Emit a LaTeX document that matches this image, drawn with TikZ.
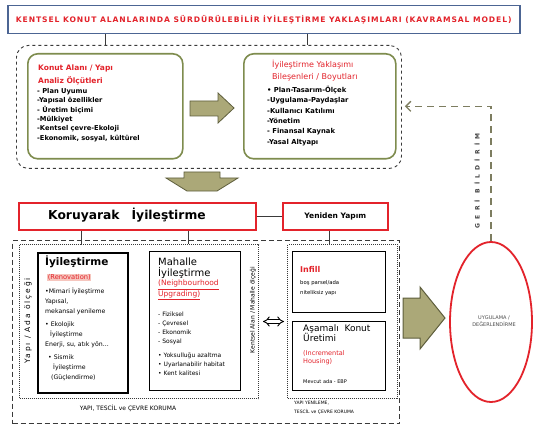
\documentclass[tikz,border=0pt]{standalone}
\usepackage{fontspec}
\setmainfont{DejaVu Sans}
\newfontfamily\titlefont[LetterSpace=12]{DejaVu Sans}
\newfontfamily\geriFont[LetterSpace=70]{DejaVu Sans}
\newfontfamily\yapiFont[LetterSpace=25]{DejaVu Sans}
\usetikzlibrary{arrows.meta,calc,shapes.geometric}
\definecolor{myred}{HTML}{E3232B}
\definecolor{olivebd}{HTML}{7E8C4E}
\definecolor{arrowfill}{HTML}{ABA878}
\definecolor{arrowbd}{HTML}{5E5E3C}
\definecolor{titlebd}{HTML}{4C6593}
\definecolor{dashgray}{HTML}{3A3A3A}
\definecolor{fbcol}{HTML}{7D7D60}
\definecolor{pinkhl}{HTML}{F6C6BE}
\newcommand{\setfs}[2]{\fontsize{#1}{#2}\selectfont}
\begin{document}
\begin{tikzpicture}[x=1pt,y=-1pt,
  rbox/.style={draw=olivebd, line width=1.6pt, rounded corners=10pt, anchor=north west, inner sep=0pt},
  grpbox/.style={draw=dashgray, dashed, line width=0.9pt, rounded corners=12pt, anchor=north west, inner sep=0pt},
  redbox/.style={draw=myred, line width=1.6pt, anchor=north west, inner sep=0pt},
  blackbox/.style={draw=black, line width=1.2pt, anchor=north west, inner sep=0pt},
  dotbox/.style={draw=dashgray, densely dotted, line width=1pt, anchor=north west, inner sep=0pt},
  txt/.style={anchor=north west, align=left, inner sep=0pt},
  blockarrow/.style={fill=arrowfill, draw=arrowbd, line width=0.8pt},
  conn/.style={draw=dashgray, line width=1.2pt}
]
\useasboundingbox (0,0) rectangle (534,430);
\fill[white] (0,0) rectangle (534,430);

% ---------- title ----------
\node[draw=titlebd, line width=1.5pt, fill=white, minimum width=512pt, minimum height=28pt, anchor=north west, inner sep=0pt] (title) at (7,5) {};
\node[text=myred, font=\titlefont\bfseries\setfs{7.6}{8}, inner sep=0pt] (titletext) at (title.center) {KENTSEL KONUT ALANLARINDA SÜRDÜRÜLEBİLİR İYİLEŞTİRME YAKLAŞIMLARI (KAVRAMSAL MODEL)};

% ---------- top group ----------
\node[grpbox, minimum width=385pt, minimum height=123pt] (grp) at (16,45) {};
\node[rbox, minimum width=155pt, minimum height=105pt] (lbox) at (27,53) {};
\node[rbox, minimum width=152pt, minimum height=105pt] (rbox) at (243,53) {};

\draw[conn] (lbox.north |- title.south) -- (lbox.north |- grp.north);
\draw[conn] ([xshift=-12pt]rbox.north |- title.south) -- ([xshift=-12pt]rbox.north |- grp.north);

\node[txt, text=myred, font=\bfseries\setfs{7.5}{12.5}] (lhead) at (38,65) {Konut Alanı / Yapı\\Analiz Ölçütleri};
\node[txt, font=\bfseries\setfs{6.7}{9.4}] (llist) at (37,88) {- Plan Uyumu\\-Yapısal özellikler\\- Üretim biçimi\\-Mülkiyet\\-Kentsel çevre-Ekoloji\\-Ekonomik, sosyal, kültürel};

\node[txt, text=myred, font=\setfs{8}{12}] (rhead) at (272,60) {İyileştirme Yaklaşımı\\Bileşenleri / Boyutları};
\node[txt, font=\bfseries\setfs{6.8}{10.3}] (rlist) at (267,86) {• Plan-Tasarım-Ölçek\\-Uygulama-Paydaşlar\\-Kullanıcı Katılımı\\-Yönetim\\- Finansal Kaynak\\-Yasal Altyapı};

% block arrow between top boxes
\draw[blockarrow] (190,101) -- (218,101) -- (218,93) -- (234,108) -- (218,123) -- (218,116) -- (190,116) -- cycle;

% down arrow
\draw[blockarrow] (184,172) -- (220,172) -- (220,178) -- (238,178) -- (217,191) -- (187,191) -- (166,178) -- (184,178) -- cycle;

% ---------- Koruyarak / Yeniden ----------
\node[redbox, minimum width=237pt, minimum height=27pt] (kor) at (18,202) {};
\node[anchor=west, inner sep=0pt, font=\bfseries\setfs{12.3}{14}] (kortext) at (48,215.5) {Koruyarak\hspace{12pt}İyileştirme};
\node[redbox, minimum width=105pt, minimum height=27pt] (yen) at (282,202) {};
\node[inner sep=0pt, font=\bfseries\setfs{7.5}{9}] (yentext) at (yen.center) {Yeniden Yapım};
\draw[draw=dashgray, line width=0.9pt] (kor.east) -- (yen.west);

% ---------- bottom group ----------
\node[draw=dashgray, dash pattern=on 5pt off 3pt, line width=1.4pt, minimum width=387pt, minimum height=183pt, anchor=north west, inner sep=0pt] (outer) at (12,240) {};
\node[dotbox, minimum width=239pt, minimum height=154pt] (lgrp) at (19,244) {};
\node[dotbox, minimum width=110pt, minimum height=154pt] (rgrp) at (287,244) {};

\node[blackbox, line width=2.2pt, minimum width=90pt, minimum height=140pt] (iyi) at (37,252) {};
\node[blackbox, minimum width=91pt, minimum height=139pt] (mah) at (149,251) {};
\node[blackbox, minimum width=93pt, minimum height=61pt] (infill) at (292,251) {};
\node[blackbox, minimum width=93pt, minimum height=69pt] (asm) at (292,321) {};

\draw[conn] ([xshift=-2pt]iyi.north |- kor.south) -- ([xshift=-2pt]iyi.north |- lgrp.north);
\draw[conn] ([xshift=-7pt]mah.north |- kor.south) -- ([xshift=-7pt]mah.north |- lgrp.north);
\draw[conn] ([xshift=-6pt]yen.south) -- ([xshift=-6pt]yen.south |- rgrp.north);

% Iyilestirme box
\node[txt, font=\bfseries\setfs{10.5}{12}] (iyititle) at (45,256) {İyileştirme};
\node[txt, text=myred, fill=pinkhl, inner sep=0.6pt, font=\setfs{6.7}{8}] (renov) at (47,274) {(Renovation)};
\node[txt, font=\setfs{6.2}{10}] (iyilist) at (45,288) {•Mimari İyileştirme\\Yapısal,\\mekansal yenileme\\[3pt]• Ekolojik\\\hspace*{5pt}İyileştirme\\Enerji, su, atık yön...\\[3pt]\hspace*{3pt}• Sismik\\\hspace*{8pt}İyileştirme\\\hspace*{6pt}(Güçlendirme)};

% Mahalle box
\node[txt, font=\setfs{10}{10.5}] (mahtitle) at (158,258) {Mahalle\\İyileştirme};
\node[txt, text=myred, font=\setfs{7.5}{8.5}] (neigh) at (158,280) {\underline{(Neighbourhood}\\\underline{Upgrading)}};
\node[txt, font=\setfs{6}{9}] (mahlist) at (158,312) {- Fiziksel\\- Çevresel\\- Ekonomik\\- Sosyal\\[5pt]• Yoksulluğu azaltma\\• Uyarlanabilir habitat\\• Kent kalitesi};

% vertical labels
\node[rotate=90, inner sep=0pt, font=\yapiFont\setfs{7.5}{9}] (yapilbl) at (28,321) {Yapı / Ada ölçeği};
\node[rotate=90, inner sep=0pt, font=\setfs{6}{7}] (kentlbl) at (253,310) {Kentsel Alan / Mahalle ölçeği};

% right group boxes
\node[txt, text=myred, font=\bfseries\setfs{8}{9}] (infilltitle) at (300,266) {Infill};
\node[txt, font=\setfs{5.3}{10}] (infilllist) at (300,280) {boş parsel/ada\\niteliksiz yapı};
\node[txt, font=\setfs{9}{9.5}] (asmtitle) at (303,324) {Aşamalı\ \ Konut\\Üretimi};
\node[txt, text=myred, font=\setfs{6.5}{8.5}] (incr) at (303,350) {(Incremental\\Housing)};
\node[txt, font=\setfs{5}{6}] (asmnote) at (303,379) {Mevcut ada - EBP};

% bottom labels
\node[inner sep=0pt, font=\setfs{6}{7}] (lbottom) at (128,408) {YAPI, TESCİL ve ÇEVRE KORUMA};
\node[txt, font=\setfs{4.5}{9}] (rbottom) at (294,400) {YAPI YENİLEME,\\TESCİL ve ÇEVRE KORUMA};

% double arrow
\draw[double, double distance=2.5pt, line width=0.9pt, {Implies}-{Implies}] ([xshift=4pt]lgrp.east) -- ([xshift=-3pt]rgrp.west);

% big right arrow
\draw[blockarrow, line width=1pt] (403,298) -- (420,298) -- (420,287) -- (445,318) -- (420,349) -- (420,338) -- (403,338) -- cycle;

% ellipse
\node[ellipse, draw=myred, line width=1.8pt, minimum width=82pt, minimum height=160pt, inner sep=0pt] (ell) at (491,322) {};
\node[inner sep=0pt, align=center, text=black!70, font=\setfs{5}{6.5}] (elltext) at (494,321) {UYGULAMA /\\DEĞERLENDİRME};

% feedback
\draw[fbcol, dash pattern=on 7pt off 5pt, line width=1.3pt, -{Straight Barb[length=5pt,width=10pt]}] (ell.north) -- (ell.north |- rbox.east) -- ([xshift=3pt]rbox.east -| grp.east);
\node[rotate=90, inner sep=0pt, text=black!75, font=\geriFont\bfseries\setfs{6}{7}] (geri) at (477,181) {GERİ BİLDİRİM};

\end{tikzpicture}
\end{document}
